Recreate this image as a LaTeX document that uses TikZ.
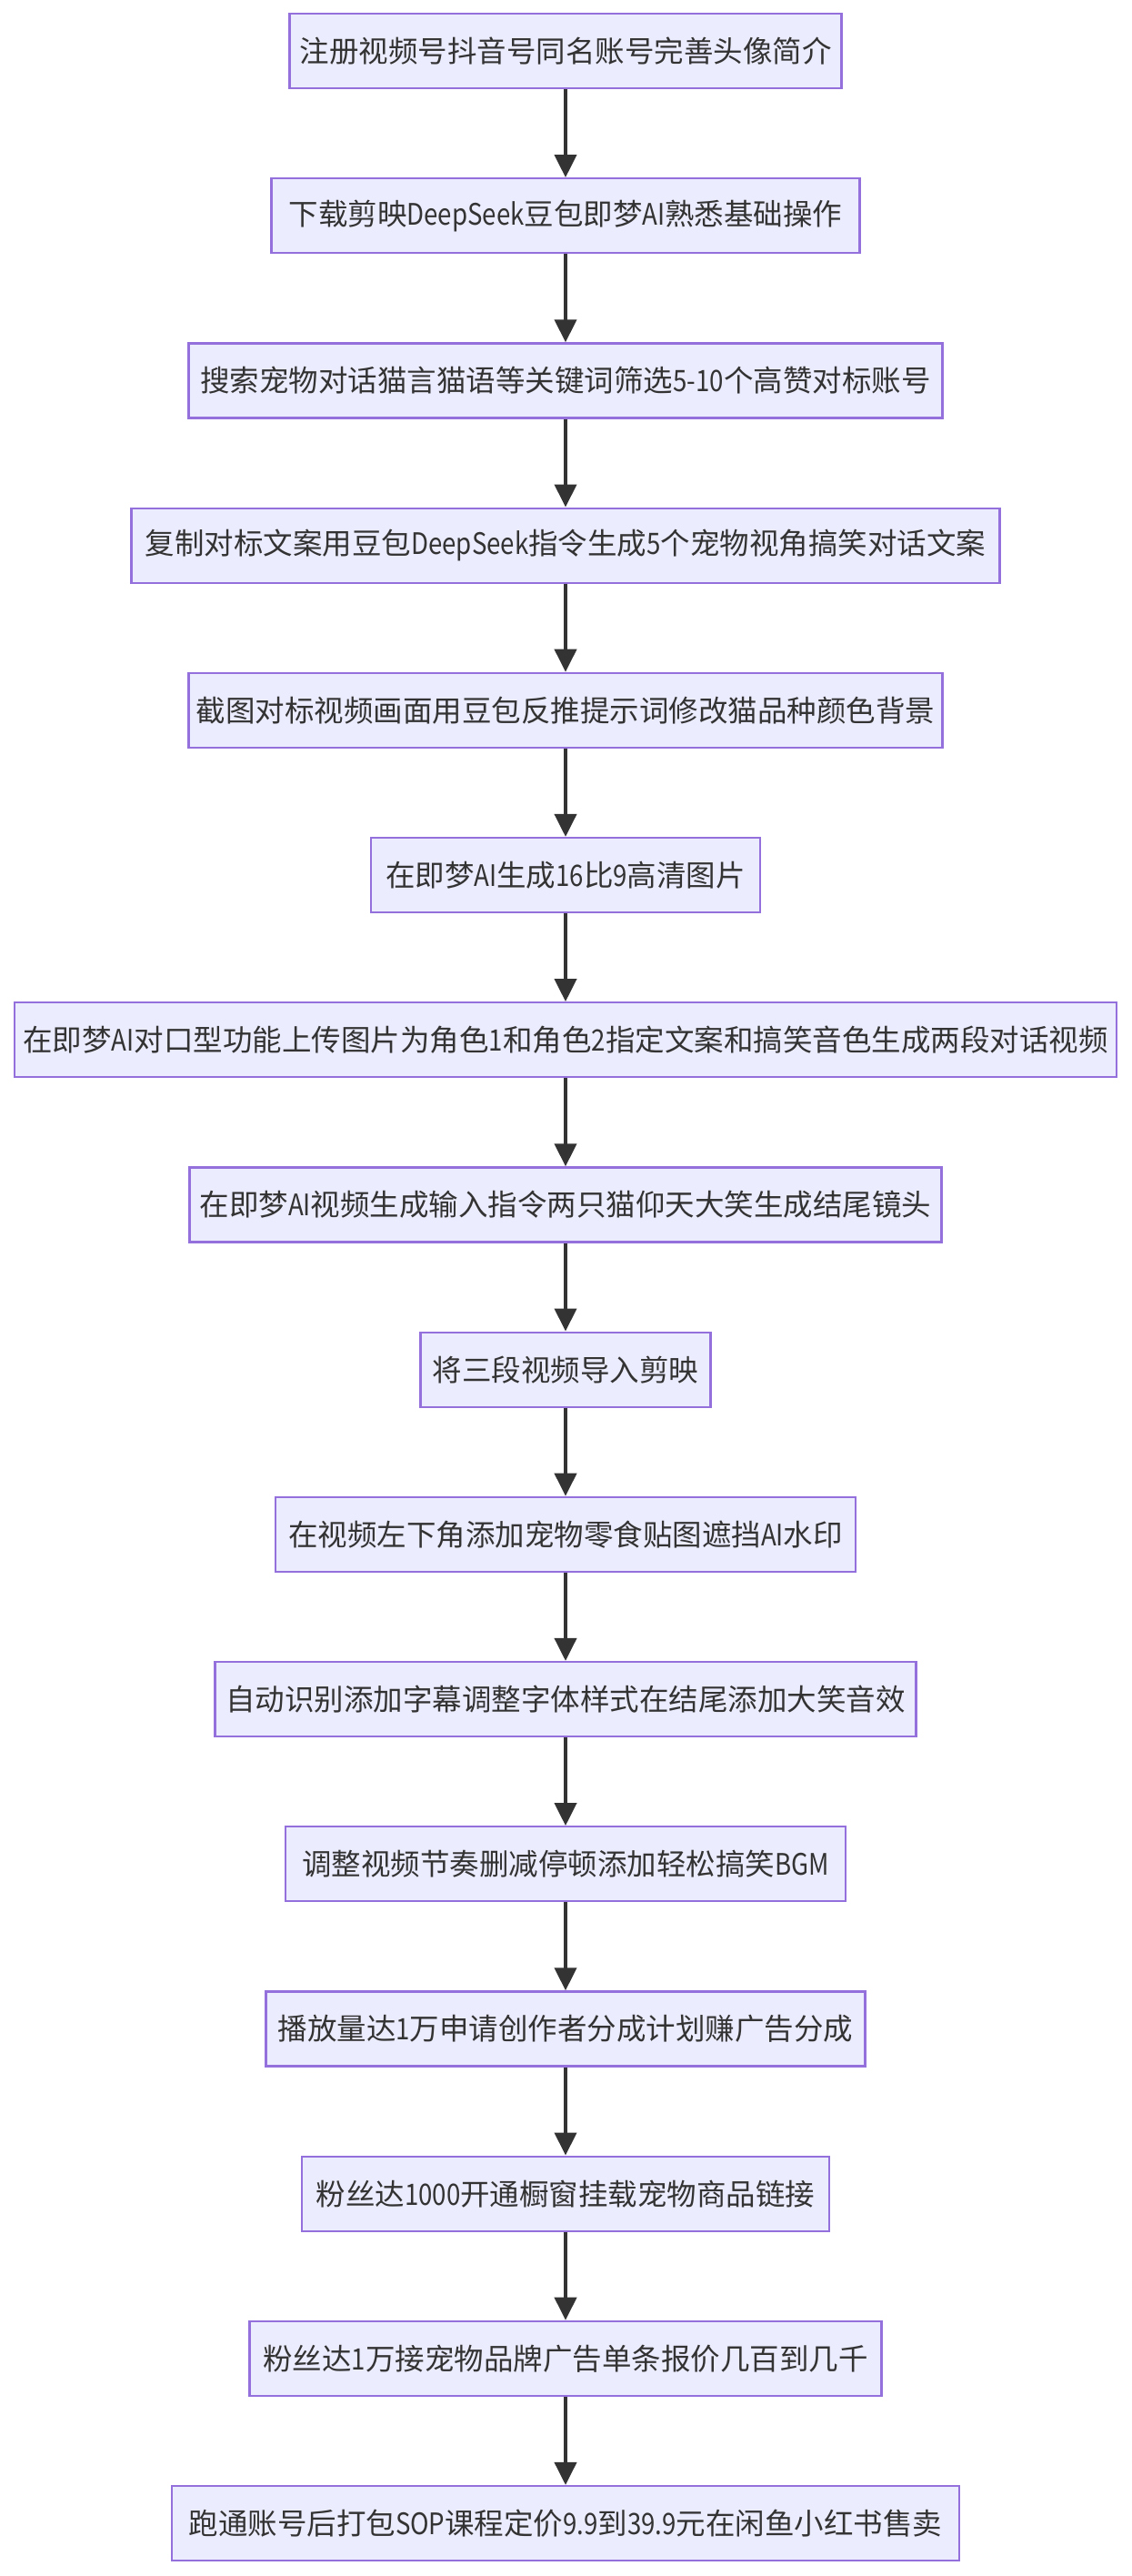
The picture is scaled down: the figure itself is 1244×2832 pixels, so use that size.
\documentclass[tikz,border=0pt]{standalone}
\usepackage{fontspec}
\setmainfont{Noto Sans CJK SC}
\newfontfamily\latf{Noto Sans CJK SC}[FakeStretch=0.85]
\newcommand{\lt}[1]{{\latf #1}}
\usetikzlibrary{arrows.meta}
\definecolor{boxfill}{HTML}{ECECFF}
\definecolor{boxline}{HTML}{9370DB}
\definecolor{ink}{HTML}{333333}
\tikzset{
  stepbox/.style={draw=boxline, fill=boxfill, line width=1.1pt, minimum height=41pt,
    inner xsep=2pt, inner ysep=0pt, text=ink, font=\fontsize{16.25pt}{20pt}\selectfont},
  flow/.style={draw=ink, line width=2pt, -{Triangle[length=12.5pt,width=12pt]}}
}
\begin{document}
\begin{tikzpicture}[x=0.5pt,y=-0.5pt]
\useasboundingbox (0,0) rectangle (1244,2832);
\def\py{181.2}
\node[stepbox, minimum width=303.5pt] (n1)  at (622,56) {注册视频号抖音号同名账号完善头像简介};
\node[stepbox, minimum width=323.5pt] (n2)  at (622,56+1*\py) {下载剪映\lt{DeepSeek}豆包即梦\lt{AI}熟悉基础操作};
\node[stepbox, minimum width=414.5pt] (n3)  at (622,56+2*\py) {搜索宠物对话猫言猫语等关键词筛选\lt{5-10}个高赞对标账号};
\node[stepbox, minimum width=477.5pt] (n4)  at (622,56+3*\py) {复制对标文案用豆包\lt{DeepSeek}指令生成\lt{5}个宠物视角搞笑对话文案};
\node[stepbox, minimum width=414.5pt] (n5)  at (622,56+4*\py) {截图对标视频画面用豆包反推提示词修改猫品种颜色背景};
\node[stepbox, minimum width=214pt] (n6)  at (622,56+5*\py) {在即梦\lt{AI}生成\lt{16}比\lt{9}高清图片};
\node[stepbox, minimum width=606pt] (n7)  at (622,56+6*\py) {在即梦\lt{AI}对口型功能上传图片为角色\lt{1}和角色\lt{2}指定文案和搞笑音色生成两段对话视频};
\node[stepbox, minimum width=413.5pt] (n8)  at (622,56+7*\py) {在即梦\lt{AI}视频生成输入指令两只猫仰天大笑生成结尾镜头};
\node[stepbox, minimum width=159.5pt] (n9)  at (622,56+8*\py) {将三段视频导入剪映};
\node[stepbox, minimum width=319pt] (n10) at (622,56+9*\py) {在视频左下角添加宠物零食贴图遮挡\lt{AI}水印};
\node[stepbox, minimum width=385.5pt] (n11) at (622,56+10*\py) {自动识别添加字幕调整字体样式在结尾添加大笑音效};
\node[stepbox, minimum width=308pt] (n12) at (622,56+11*\py) {调整视频节奏删减停顿添加轻松搞笑\lt{BGM}};
\node[stepbox, minimum width=329.5pt] (n13) at (622,56+12*\py) {播放量达\lt{1}万申请创作者分成计划赚广告分成};
\node[stepbox, minimum width=290pt] (n14) at (622,56+13*\py) {粉丝达\lt{1000}开通橱窗挂载宠物商品链接};
\node[stepbox, minimum width=347.5pt] (n15) at (622,56+14*\py) {粉丝达\lt{1}万接宠物品牌广告单条报价几百到几千};
\node[stepbox, minimum width=433pt] (n16) at (622,56+15*\py) {跑通账号后打包\lt{SOP}课程定价\lt{9.9}到\lt{39.9}元在闲鱼小红书售卖};
\foreach \a/\b in {1/2,2/3,3/4,4/5,5/6,6/7,7/8,8/9,9/10,10/11,11/12,12/13,13/14,14/15,15/16}
  \draw[flow] (n\a.south) -- (n\b.north);
\end{tikzpicture}
\end{document}
